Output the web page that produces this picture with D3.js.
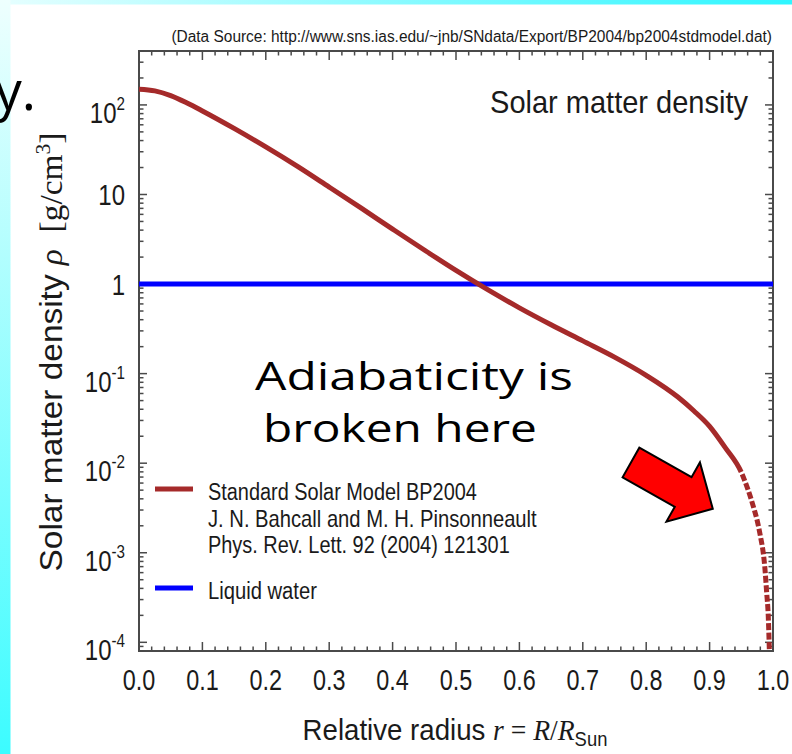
<!DOCTYPE html>
<html>
<head>
<meta charset="utf-8">
<script src="https://cdn.jsdelivr.net/npm/d3@7"></script>
<style>
  body { margin: 0; background: #fff; }
  svg { display: block; }
  text { font-family: 'Liberation Sans', Arial, sans-serif; fill: #1a1a1a; }
  .math { font-family: 'Liberation Serif', 'DejaVu Serif', serif; }
  .comic { font-family: 'Comic Sans MS', 'Open Sans', sans-serif; fill: #000; }
</style>
</head>
<body>
<div id="chart"></div>
<script>
// BP2004 standard solar model
const radius = [0.00, 0.025, 0.05, 0.075, 0.10, 0.15, 0.20, 0.25, 0.30, 0.35, 0.40, 0.45, 0.50, 0.55, 0.60, 0.65, 0.70, 0.75, 0.80, 0.85, 0.875, 0.90, 0.925, 0.95, 0.96, 0.97, 0.975, 0.98, 0.985, 0.987, 0.99, 0.9926, 0.9942, 0.996]
const density = [150, 143.5, 126.9, 105.7, 85.7, 54.7, 34.0, 20.6, 12.1, 7.08, 4.11, 2.40, 1.42, 0.865, 0.542, 0.351, 0.232, 0.153, 0.0958, 0.0548, 0.0385, 0.0258, 0.0148, 0.0079, 0.0052, 0.0031, 0.0023, 0.00155, 0.00095, 0.0007, 0.00036, 0.00019, 0.000082, 0.00002]
const dashedFrom = 0.95
const waterDensity = 1

const xTicks = [0, 0.1, 0.2, 0.3, 0.4, 0.5, 0.6, 0.7, 0.8, 0.9, 1.0]
const yTicks = [1e2, 1e1, 1, 1e-1, 1e-2, 1e-3, 1e-4]
const yTickBase = ['10', '10', '1', '10', '10', '10', '10']
const yTickExp = ['2', '', '', '-1', '-2', '-3', '-4']

const legendLines = [
  ['Standard Solar Model BP2004', 'J. N. Bahcall and M. H. Pinsonneault', 'Phys. Rev. Lett. 92 (2004) 121301'],
  ['Liquid water']
]
const legendWidths = [[269, 329, 302], [109]]
const legendColors = ['#a52a2a', '#0000ff']

const margin = { top: 51, left: 139, right: 19, bottom: 103 }
const width = 792 - margin.left - margin.right
const height = 754 - margin.top - margin.bottom

const root = d3.select('#chart').append('svg')
  .attr('width', 792)
  .attr('height', 754)

// slide background strips
const defs = root.append('defs')
const gl = defs.append('linearGradient').attr('id', 'leftStrip')
  .attr('x1', 0).attr('y1', 0).attr('x2', 0).attr('y2', 1)
gl.append('stop').attr('offset', '0%').attr('stop-color', '#eefffe')
gl.append('stop').attr('offset', '100%').attr('stop-color', '#3cfcff')
const gt = defs.append('linearGradient').attr('id', 'topStrip')
  .attr('x1', 0).attr('y1', 0).attr('x2', 1).attr('y2', 0)
gt.append('stop').attr('offset', '0%').attr('stop-color', '#e6ffff')
gt.append('stop').attr('offset', '100%').attr('stop-color', '#2ef6ff')
defs.append('clipPath').attr('id', 'plotClip')
  .append('rect').attr('width', width).attr('height', height)

root.append('rect').attr('x', 0).attr('y', 0).attr('width', 792).attr('height', 4.5).attr('fill', 'url(#topStrip)')
root.append('rect').attr('x', 0).attr('y', 0).attr('width', 10.5).attr('height', 754).attr('fill', 'url(#leftStrip)')

const svg = root.append('g')
  .attr('transform', 'translate(' + margin.left + ',' + margin.top + ')')

const x = d3.scaleLinear().domain([0, 1]).range([0, width])
const y = d3.scaleLog().domain([8e-5, 400]).range([height, 0])

// text helper: put a text at (px,py) and squeeze it to a given width (or a fixed factor)
function label(parent, px, py, anchor, size, rot) {
  const g = parent.append('g')
    .attr('transform', 'translate(' + px + ',' + py + ')' + (rot ? ' rotate(' + rot + ')' : ''))
  return g.append('text').attr('text-anchor', anchor).style('font-size', size + 'px')
}
function squeeze(t, target) {
  const w = t.node().getComputedTextLength()
  t.attr('transform', 'scale(' + (target / w) + ',1)')
}

// frame + ticks on all four sides
const frameColor = '#4a4a4a'
svg.append('rect')
  .attr('width', width).attr('height', height)
  .attr('fill', 'none').attr('stroke', frameColor).attr('stroke-width', 2)

const xMinor = d3.range(0, 51).map(i => i / 50)
const yMinor = []
for (let n = -5; n <= 2; n++) {
  for (let k = 1; k <= 9; k++) {
    const v = k * Math.pow(10, n)
    if (v >= 8e-5 && v <= 400) yMinor.push({ v: v, major: k === 1 })
  }
}

const tickG = svg.append('g').attr('stroke', frameColor).attr('stroke-width', 1.5)
xMinor.forEach((v, i) => {
  const len = i % 5 === 0 ? 9 : 4.5
  tickG.append('line').attr('x1', x(v)).attr('x2', x(v)).attr('y1', height).attr('y2', height - len)
  tickG.append('line').attr('x1', x(v)).attr('x2', x(v)).attr('y1', 0).attr('y2', len)
})
yMinor.forEach(d => {
  const len = d.major ? 8 : 4.5
  tickG.append('line').attr('x1', 0).attr('x2', len).attr('y1', y(d.v)).attr('y2', y(d.v))
  tickG.append('line').attr('x1', width).attr('x2', width - len).attr('y1', y(d.v)).attr('y2', y(d.v))
})

// tick labels
xTicks.forEach(v => {
  label(svg, x(v), height + 39, 'middle', 30)
    .attr('transform', 'scale(0.78,1)')
    .text(v.toFixed(1))
})

yTicks.forEach((v, i) => {
  const t = label(svg, -14, y(v) + (yTickExp[i] ? 18 : 11), 'end', 30)
    .attr('transform', 'scale(0.8,1)')
  t.append('tspan').text(yTickBase[i])
  if (yTickExp[i]) {
    t.append('tspan').attr('dy', -13).style('font-size', '19px').text(yTickExp[i])
  }
})

// water line
const plot = svg.append('g').attr('clip-path', 'url(#plotClip)')
plot.append('line')
  .attr('x1', x(0)).attr('x2', x(1))
  .attr('y1', y(waterDensity)).attr('y2', y(waterDensity))
  .attr('stroke', '#0000ff').attr('stroke-width', 5)

// density curve: one path, solid up to r = 0.95, dashed after
const pts = radius.map((r, i) => ({ r: r, rho: density[i] }))
const line = d3.line()
  .x(d => x(d.r))
  .y(d => y(d.rho))
  .curve(d3.curveMonotoneX)

const curve = plot.append('path')
  .datum(pts)
  .attr('d', line)
  .attr('fill', 'none')
  .attr('stroke', '#a52a2a')
  .attr('stroke-width', 5)

const node = curve.node()
const total = node.getTotalLength()
let lo = 0, hi = total
while (hi - lo > 0.5) {
  const mid = (lo + hi) / 2
  if (node.getPointAtLength(mid).x < x(dashedFrom)) lo = mid
  else hi = mid
}
const dashes = [lo, 2.5]
for (let s = lo; s < total + 20; s += 9.5) dashes.push(7, 2.5)
curve.attr('stroke-dasharray', dashes.join(','))

// legend
const legend = svg.append('g').attr('transform', 'translate(16,438)')
legend.append('line').attr('x1', 0).attr('x2', 38).attr('y1', 0).attr('y2', 0)
  .attr('stroke', legendColors[0]).attr('stroke-width', 5)
legendLines[0].forEach((s, i) => {
  squeeze(label(legend, 53, 11 + i * 26.5, 'start', 23).text(s), legendWidths[0][i])
})
legend.append('line').attr('x1', 0).attr('x2', 38).attr('y1', 99).attr('y2', 99)
  .attr('stroke', legendColors[1]).attr('stroke-width', 5)
squeeze(label(legend, 53, 110, 'start', 23).text(legendLines[1][0]), legendWidths[1][0])

// titles
squeeze(label(svg, width - 25, 62, 'end', 31).text('Solar matter density'), 258)
squeeze(label(svg, width - 1, -9, 'end', 16)
  .text('(Data Source: http://www.sns.ias.edu/~jnb/SNdata/Export/BP2004/bp2004stdmodel.dat)'), 601)

// axis labels
const xl = label(svg, 316, height + 89, 'middle', 30)
xl.append('tspan').text('Relative radius ')
xl.append('tspan').attr('class', 'math').style('font-style', 'italic').text('r')
xl.append('tspan').attr('class', 'math').text(' = ')
xl.append('tspan').attr('class', 'math').style('font-style', 'italic').text('R')
xl.append('tspan').attr('class', 'math').text('/')
xl.append('tspan').attr('class', 'math').style('font-style', 'italic').text('R')
xl.append('tspan').attr('dy', 6).style('font-size', '20px').text('Sun')
squeeze(xl, 305)

const yl = label(svg, -77, height / 2 + 1, 'middle', 31, -90)
yl.append('tspan').text('Solar matter density ')
yl.append('tspan').attr('class', 'math').style('font-style', 'italic').text('ρ')
yl.append('tspan').attr('class', 'math').text('\u00a0\u00a0[g/cm')
yl.append('tspan').attr('class', 'math').attr('dy', -12).style('font-size', '20px').text('3')
yl.append('tspan').attr('class', 'math').attr('dy', 12).text(']')
squeeze(yl, 439)

// annotation
svg.append('text').attr('class', 'comic')
  .attr('x', 116).attr('y', 339)
  .attr('textLength', 318).attr('lengthAdjust', 'spacingAndGlyphs')
  .style('font-size', '38px')
  .text('Adiabaticity is')
svg.append('text').attr('class', 'comic')
  .attr('x', 124).attr('y', 391)
  .attr('textLength', 274).attr('lengthAdjust', 'spacingAndGlyphs')
  .style('font-size', '38px')
  .text('broken here')

// arrow, tip anchored on the plot at r = 0.905
const arrowLen = 94, shaftHalf = 17, headLen = 34, headHalf = 34
const arrowPts = [
  [0, 0], [-headLen, -headHalf], [-headLen, -shaftHalf], [-arrowLen, -shaftHalf],
  [-arrowLen, shaftHalf], [-headLen, shaftHalf], [-headLen, headHalf]
]
svg.append('polygon')
  .attr('points', arrowPts.map(p => p.join(',')).join(' '))
  .attr('transform', 'translate(' + x(0.905) + ',' + y(0.0031) + ') rotate(29.5)')
  .attr('fill', '#ff0000')
  .attr('stroke', '#000')
  .attr('stroke-width', 2)
  .attr('stroke-linejoin', 'miter')

// cut-off slide title
root.append('text').attr('class', 'comic')
  .attr('x', 36).attr('y', 110)
  .attr('text-anchor', 'end')
  .style('font-size', '54px')
  .text('y.')
</script>
</body>
</html>
